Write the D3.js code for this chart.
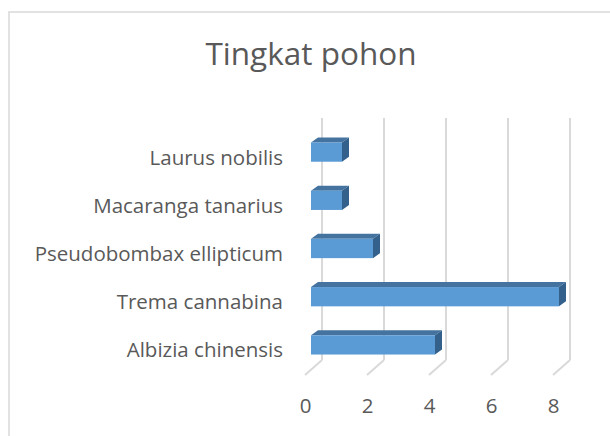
<!DOCTYPE html>
<html>
<head>
<meta charset="utf-8">
<script src="https://cdn.jsdelivr.net/npm/d3@7"></script>
<style>
  body { margin: 0; background: #fff; }
  svg text { font-family: "Open Sans", sans-serif; fill: #595959; }
</style>
</head>
<body>
<svg id="chart" width="610" height="436"></svg>
<script>
const categories = ["Albizia chinensis", "Trema cannabina", "Pseudobombax ellipticum", "Macaranga tanarius", "Laurus nobilis"];
const values = [4, 8, 2, 1, 1];
const tickValues = [0, 2, 4, 6, 8];
const title = "Tingkat pohon";

const barFront = "#5b9bd5";
const barTop = "#44739f";
const barSide = "#33618c";
const gridColor = "#d9d9d9";

const svg = d3.select("#chart");

// chart frame (runs off the right and bottom edges)
svg.append("rect")
  .attr("x", 9).attr("y", 12)
  .attr("width", 640).attr("height", 460)
  .attr("fill", "#fff")
  .attr("stroke", gridColor)
  .attr("stroke-width", 1.5);

svg.append("text")
  .attr("x", 311).attr("y", 65)
  .attr("text-anchor", "middle")
  .style("font-size", "31.5px")
  .text(title);

// back wall, bar face and floor front scales (same domain, shifted by depth)
const xBack = d3.scaleLinear().domain([0, 8]).range([322, 570]);
const xBar = d3.scaleLinear().domain([0, 8]).range([311, 559]);
const xFloor = d3.scaleLinear().domain([0, 8]).range([305, 553]);

const y = d3.scaleBand()
  .domain(categories)
  .range([369, 128])
  .paddingInner(0.6)
  .paddingOuter(0.3);

const wallTop = 118, wallBottom = 360, floorFront = 375;
const depthX = 7, depthY = 5;

// gridlines on the back wall + floor diagonals
const grid = svg.append("g");
grid.selectAll("line.wall")
  .data(tickValues)
  .enter()
  .append("line")
  .attr("class", "wall")
  .attr("x1", d => xBack(d)).attr("x2", d => xBack(d))
  .attr("y1", wallTop).attr("y2", wallBottom)
  .attr("stroke", gridColor).attr("stroke-width", 2);

grid.selectAll("line.floor")
  .data(tickValues)
  .enter()
  .append("line")
  .attr("class", "floor")
  .attr("x1", d => xBack(d)).attr("y1", wallBottom)
  .attr("x2", d => xFloor(d)).attr("y2", floorFront)
  .attr("stroke", gridColor).attr("stroke-width", 2);

// 3D bars
const data = categories.map((c, i) => ({ name: c, value: values[i] }));
const bars = svg.append("g").selectAll("g")
  .data(data)
  .enter()
  .append("g");

bars.append("path")
  .attr("fill", barTop)
  .attr("d", function(d) {
    const x0 = xBar(0), x1 = xBar(d.value), y0 = y(d.name);
    return "M" + x0 + "," + y0 + "L" + x1 + "," + y0 +
      "L" + (x1 + depthX) + "," + (y0 - depthY) +
      "L" + (x0 + depthX) + "," + (y0 - depthY) + "Z";
  });

bars.append("path")
  .attr("fill", barSide)
  .attr("d", function(d) {
    const x1 = xBar(d.value), y0 = y(d.name), y1 = y0 + y.bandwidth();
    return "M" + x1 + "," + y0 + "L" + (x1 + depthX) + "," + (y0 - depthY) +
      "L" + (x1 + depthX) + "," + (y1 - depthY) + "L" + x1 + "," + y1 + "Z";
  });

bars.append("rect")
  .attr("x", xBar(0))
  .attr("y", d => y(d.name))
  .attr("width", d => xBar(d.value) - xBar(0))
  .attr("height", y.bandwidth())
  .attr("fill", barFront);

// category axis
const yAxis = svg.append("g")
  .attr("transform", "translate(291,6)")
  .call(d3.axisLeft(y).tickSize(0).tickPadding(8));
yAxis.select(".domain").remove();
yAxis.selectAll("text")
  .style("font-size", "20.5px")
  .style("font-family", "Open Sans")
  .attr("fill", "#595959");

// value axis
const xAxis = svg.append("g")
  .attr("transform", "translate(0,398)")
  .call(d3.axisBottom(xFloor).tickValues(tickValues).tickSize(0).tickPadding(0));
xAxis.select(".domain").remove();
xAxis.selectAll("text")
  .style("font-size", "20.5px")
  .style("font-family", "Open Sans")
  .attr("fill", "#595959");
</script>
</body>
</html>
